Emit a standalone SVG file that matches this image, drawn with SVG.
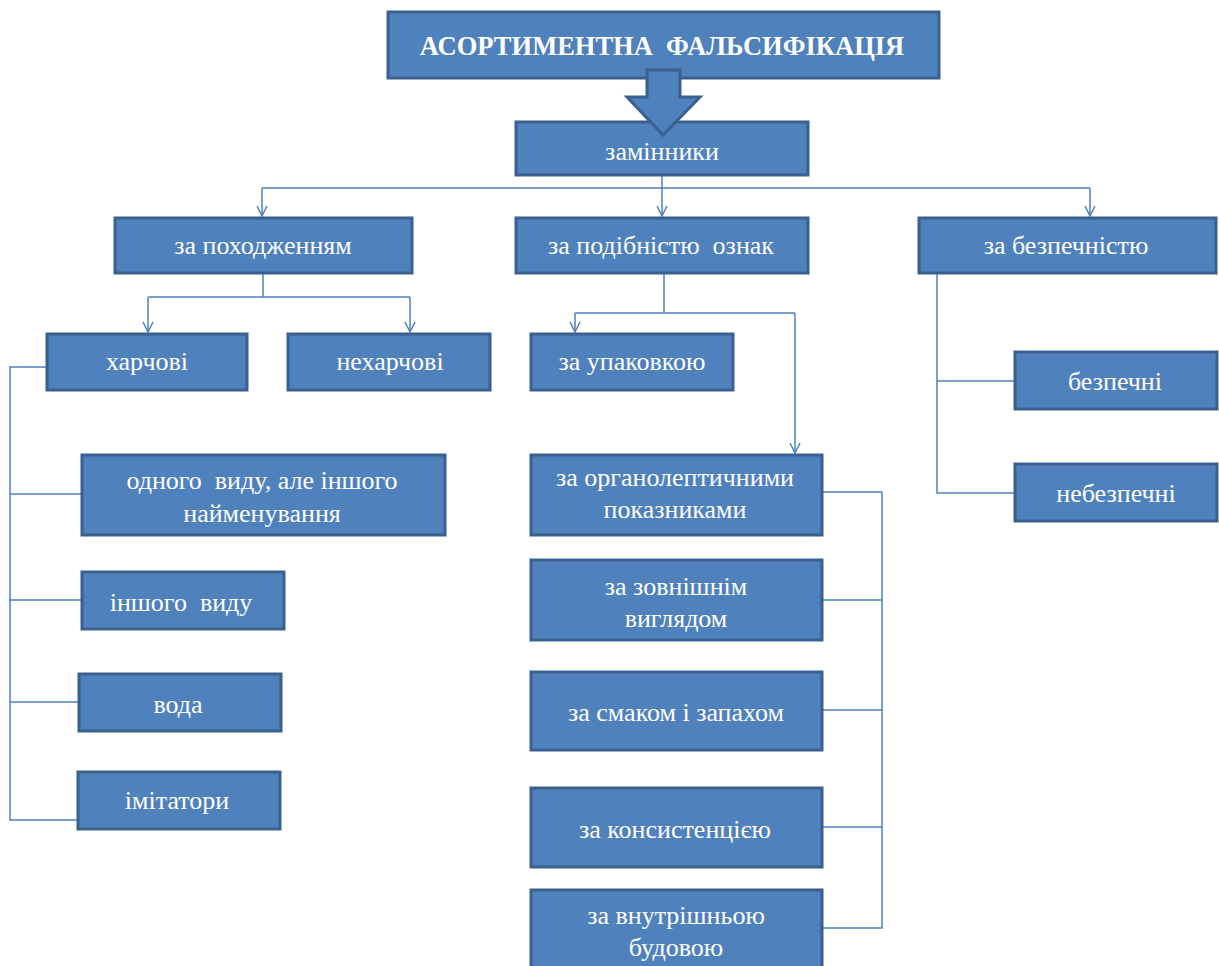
<svg xmlns="http://www.w3.org/2000/svg" width="1219" height="966" viewBox="0 0 1219 966">
  <style>
    .box { fill: #4F81BD; stroke: #3A6090; stroke-width: 3; }
    .lbl { font-family: "Liberation Serif", "Times New Roman", serif; font-size: 26px; fill: #FFFFFF; text-anchor: middle; white-space: pre; }
    .title { font-family: "Liberation Serif", "Times New Roman", serif; font-size: 26.5px; font-weight: bold; fill: #FFFFFF; text-anchor: middle; white-space: pre; }
    .link { fill: none; stroke: #4F81BD; stroke-width: 1.5; }
    .arrow { marker-end: url(#vhead); }
  </style>
  <defs>
    <!-- open V arrowhead, drawn along the path direction -->
    <marker id="vhead" viewBox="0 0 12 12" refX="11" refY="6" markerWidth="12" markerHeight="12" markerUnits="userSpaceOnUse" orient="auto">
      <path d="M1,1 L11,6 L1,11" fill="none" stroke="#4F81BD" stroke-width="1.5"/>
    </marker>
  </defs>
  <rect width="1219" height="966" fill="#FFFFFF"/>

  <!-- connectors -->
  <g id="connectors">
    <path class="link" d="M662,175 V188"/>
    <path class="link" d="M262,188 H1090"/>
    <path class="link arrow" d="M262,188 V216"/>
    <path class="link arrow" d="M662,188 V216"/>
    <path class="link arrow" d="M1090,188 V216"/>

    <path class="link" d="M263,273 V297 M148,297 H410"/>
    <path class="link arrow" d="M148,297 V332"/>
    <path class="link arrow" d="M410,297 V332"/>

    <path class="link" d="M664,273 V313 M575,313 H795"/>
    <path class="link arrow" d="M575,313 V332"/>
    <path class="link arrow" d="M795,313 V453"/>

    <path class="link" d="M47,367 H10 V820 H78"/>
    <path class="link" d="M10,494 H82 M10,600 H82 M10,702 H80"/>

    <path class="link" d="M822,492 H882 V928 H822"/>
    <path class="link" d="M822,600 H882 M822,710 H882 M822,827 H882"/>

    <path class="link" d="M937,273 V493 H1015 M937,381 H1015"/>
  </g>

  <!-- root -->
  <g id="root">
    <rect class="box" x="388" y="12" width="551" height="66"/>
    <text class="title" x="662" y="55">АСОРТИМЕНТНА  ФАЛЬСИФІКАЦІЯ</text>
  </g>

  <g id="substitutes">
    <rect class="box" x="516" y="122" width="292" height="53"/>
    <text class="lbl" x="662" y="160">замінники</text>
  </g>

  <!-- block arrow from root down to the substitutes box -->
  <g id="root-arrow">
    <path d="M647,70 H680 V97 H700 L663,135 L627,97 H647 Z" fill="#4F81BD" stroke="#3A6090" stroke-width="3" stroke-linejoin="miter"/>
  </g>

  <g id="by-origin">
    <rect class="box" x="115" y="218" width="297" height="55"/>
    <text class="lbl" x="263" y="254">за походженням</text>
  </g>
  <g id="by-similarity">
    <rect class="box" x="516" y="218" width="292" height="55"/>
    <text class="lbl" x="661" y="254">за подібністю  ознак</text>
  </g>
  <g id="by-safety">
    <rect class="box" x="919" y="218" width="297" height="55"/>
    <text class="lbl" x="1066" y="254">за безпечністю</text>
  </g>

  <g id="food">
    <rect class="box" x="47" y="334" width="200" height="56"/>
    <text class="lbl" x="147" y="370">харчові</text>
  </g>
  <g id="non-food">
    <rect class="box" x="288" y="334" width="202" height="56"/>
    <text class="lbl" x="390" y="370">нехарчові</text>
  </g>
  <g id="by-package">
    <rect class="box" x="531" y="334" width="202" height="56"/>
    <text class="lbl" x="632" y="370">за упаковкою</text>
  </g>

  <g id="same-kind">
    <rect class="box" x="82" y="455" width="363" height="80"/>
    <text class="lbl" x="262" y="489">одного  виду, але іншого</text>
    <text class="lbl" x="262" y="522">найменування</text>
  </g>
  <g id="other-kind">
    <rect class="box" x="82" y="572" width="202" height="57"/>
    <text class="lbl" x="181" y="611">іншого  виду</text>
  </g>
  <g id="water">
    <rect class="box" x="79" y="674" width="202" height="57"/>
    <text class="lbl" x="178" y="713">вода</text>
  </g>
  <g id="imitators">
    <rect class="box" x="78" y="772" width="202" height="57"/>
    <text class="lbl" x="177" y="809">імітатори</text>
  </g>

  <g id="organoleptic">
    <rect class="box" x="531" y="455" width="291" height="80"/>
    <text class="lbl" x="675" y="486">за органолептичними</text>
    <text class="lbl" x="675" y="518">показниками</text>
  </g>
  <g id="appearance">
    <rect class="box" x="531" y="560" width="291" height="80"/>
    <text class="lbl" x="676" y="595">за зовнішнім</text>
    <text class="lbl" x="676" y="627">виглядом</text>
  </g>
  <g id="taste-smell">
    <rect class="box" x="531" y="672" width="291" height="78"/>
    <text class="lbl" x="676" y="721">за смаком і запахом</text>
  </g>
  <g id="consistency">
    <rect class="box" x="531" y="788" width="291" height="79"/>
    <text class="lbl" x="675" y="838">за консистенцією</text>
  </g>
  <g id="inner-structure">
    <rect class="box" x="531" y="890" width="291" height="80"/>
    <text class="lbl" x="676" y="924">за внутрішньою</text>
    <text class="lbl" x="676" y="956">будовою</text>
  </g>

  <g id="safe">
    <rect class="box" x="1015" y="352" width="202" height="57"/>
    <text class="lbl" x="1115" y="390">безпечні</text>
  </g>
  <g id="unsafe">
    <rect class="box" x="1015" y="464" width="202" height="57"/>
    <text class="lbl" x="1116" y="502">небезпечні</text>
  </g>
</svg>
